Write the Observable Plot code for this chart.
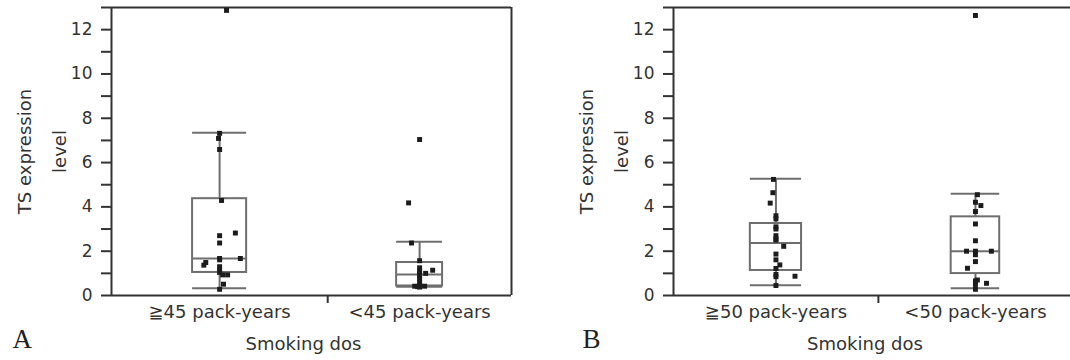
<!DOCTYPE html>
<html>
<head>
<meta charset="utf-8">
<script src="https://cdn.jsdelivr.net/npm/d3@7"></script>
<script src="https://cdn.jsdelivr.net/npm/@observablehq/plot@0.6"></script>
<style>
html, body { margin: 0; padding: 0; background: #fff; overflow: hidden; }
#wrap { position: relative; width: 1070px; height: 360px; overflow: hidden; }
.panel { position: absolute; top: 0; }
</style>
</head>
<body>
<div id="wrap">
  <div class="panel" id="pa" style="left:0px;width:540px"></div>
  <div class="panel" id="pb" style="left:540px;width:533px"></div>
</div>
<script>
// ---- Panel A data ----
const catsA = ["≧45 pack-years", "<45 pack-years"];
const ptsA1 = [12.87, 7.32, 7.09, 6.59, 4.29, 2.82, 2.70, 2.37, 1.67, 1.67, 1.61, 1.49, 1.37, 1.30, 1.15, 1.04, 0.93, 0.93, 0.51, 0.28];
const jitA1 = [0.032, 0, -0.005, 0, 0.009, 0.073, 0, 0, 0.096, 0, 0, -0.064, -0.073, 0, 0, 0, 0.014, 0.037, 0.018, 0];
const ptsA2 = [7.04, 4.18, 2.37, 1.57, 1.25, 1.14, 1.10, 1.00, 1.00, 0.90, 0.75, 0.60, 0.45, 0.42, 0.42, 0.40, 0.38];
const jitA2 = [0, -0.060, -0.044, 0, 0, 0.071, 0, 0.033, 0, 0, 0, 0, 0, -0.027, 0.027, -0.011, 0];
const q1A = [1.04, 0.43];
const medA = [1.67, 0.95];
const q3A = [4.37, 1.49];
const loA = [0.33, 0.40];
const hiA = [7.35, 2.43];

// ---- Panel B data ----
const catsB = ["≧50 pack-years", "<50 pack-years"];
const ptsB1 = [5.24, 4.64, 4.17, 3.60, 3.46, 3.10, 3.00, 2.70, 2.55, 2.50, 2.22, 1.87, 1.61, 1.38, 1.22, 0.95, 0.87, 0.85, 0.45];
const jitB1 = [-0.012, -0.015, -0.028, 0, 0, 0, 0, 0, 0, 0, 0.038, 0, 0, 0.019, 0, 0, 0.093, 0, 0];
const ptsB2 = [12.64, 4.55, 4.21, 4.06, 3.79, 3.23, 2.47, 2.00, 2.00, 2.00, 1.84, 1.53, 1.23, 0.70, 0.66, 0.55, 0.50, 0.28];
const jitB2 = [0, 0.01, 0, 0.028, 0, 0, 0, -0.046, 0, 0.082, 0, 0, -0.041, 0.01, 0, 0.057, 0, 0];
const q1B = [1.13, 0.99];
const medB = [2.37, 2.00];
const q3B = [3.25, 3.55];
const loB = [0.46, 0.33];
const hiB = [5.27, 4.59];

// ---- Axis ----
const yTicks = d3.range(0, 14);
const yLabelTicks = [0, 2, 4, 6, 8, 10, 12];
const yTitle = "TS expression\nlevel";
const xTitle = "Smoking dos";

const FONT = "DejaVu Sans, Verdana, sans-serif";
const INK = "#333333";
const BOX = "#6e6e6e";

function panel({cats, pts, jit, q1, med, q3, lo, hi, letter, width, marginLeft, marginRight, rightBorder}) {
  const ns = pts.map(p => p.length);
  const N = d3.sum(ns);
  const starts = ns.map((n, i) => d3.sum(ns.slice(0, i)));
  const centers = ns.map((n, i) => starts[i] + n / 2);
  const dots = pts.flatMap((vs, i) => vs.map((v, j) => ({x: centers[i] + jit[i][j] * ns[i], y: v})));
  const boxes = cats.map((c, i) => ({
    c: centers[i], x1: centers[i] - ns[i] / 8, x2: centers[i] + ns[i] / 8,
    q1: q1[i], med: med[i], q3: q3[i], lo: lo[i], hi: hi[i]
  }));
  const marks = [
    Plot.ruleY([0], {stroke: INK, strokeWidth: 2}),
    Plot.ruleY([13], {stroke: INK, strokeWidth: 2}),
    Plot.ruleX([0], {stroke: INK, strokeWidth: 2}),
    rightBorder ? Plot.ruleX([N], {stroke: INK, strokeWidth: 2}) : null,
    Plot.axisY({ticks: yTicks, tickSize: 10, tickPadding: 9, strokeWidth: 2,
      tickFormat: d => yLabelTicks.includes(d) ? String(d) : "", fontSize: 17}),
    Plot.axisX({ticks: [starts[1]], tickSize: 8, tickFormat: () => "", strokeWidth: 2}),
    Plot.axisX({ticks: centers, tickSize: 0, tickPadding: 10,
      tickFormat: d => cats[centers.indexOf(d)], fontSize: 18}),
    Plot.ruleX(boxes, {x: "c", y1: "q3", y2: "hi", stroke: BOX, strokeWidth: 2}),
    Plot.ruleX(boxes, {x: "c", y1: "lo", y2: "q1", stroke: BOX, strokeWidth: 2}),
    Plot.rect(boxes, {x1: "x1", x2: "x2", y1: "q1", y2: "q3", fill: "none", stroke: BOX, strokeWidth: 2}),
    Plot.ruleY(boxes, {y: "med", x1: "x1", x2: "x2", stroke: BOX, strokeWidth: 2}),
    Plot.ruleY(boxes, {y: "hi", x1: "x1", x2: "x2", stroke: BOX, strokeWidth: 2}),
    Plot.ruleY(boxes, {y: "lo", x1: "x1", x2: "x2", stroke: BOX, strokeWidth: 2}),
    Plot.dot(dots, {x: "x", y: "y", symbol: "square", r: 2.8, fill: "#1c1c1c", stroke: "none"}),
    Plot.text([yTitle], {frameAnchor: "left", rotate: -90, dx: -74, lineHeight: 1.9,
      fontSize: 18, textAnchor: "middle", fill: INK}),
    Plot.text([xTitle], {frameAnchor: "bottom", dx: -8, dy: 54, fontSize: 18, fill: INK}),
    Plot.text([letter.t], {frameAnchor: "bottom-left", dx: letter.dx, dy: 52, textAnchor: "start",
      lineAnchor: "bottom", fontFamily: "Liberation Serif, Times New Roman, serif", fontSize: 27, fill: "#222"})
  ].filter(Boolean);

  return Plot.plot({
    width, height: 360,
    marginLeft, marginRight, marginTop: 7, marginBottom: 65,
    x: {type: "linear", domain: [0, N], axis: null},
    y: {domain: [0, 13], axis: null},
    style: {fontFamily: FONT, fontSize: "18px", color: INK, background: "transparent", maxWidth: "none", overflow: "visible"},
    marks
  });
}

document.getElementById("pa").append(panel({
  cats: catsA, pts: [ptsA1, ptsA2], jit: [jitA1, jitA2],
  q1: q1A, med: medA, q3: q3A, lo: loA, hi: hiA,
  letter: {t: "A", dx: -99},
  width: 540, marginLeft: 111, marginRight: 29, rightBorder: true
}));
document.getElementById("pb").append(panel({
  cats: catsB, pts: [ptsB1, ptsB2], jit: [jitB1, jitB2],
  q1: q1B, med: medB, q3: q3B, lo: loB, hi: hiB,
  letter: {t: "B", dx: -91},
  width: 533, marginLeft: 133, marginRight: 1, rightBorder: false
}));
</script>
</body>
</html>
